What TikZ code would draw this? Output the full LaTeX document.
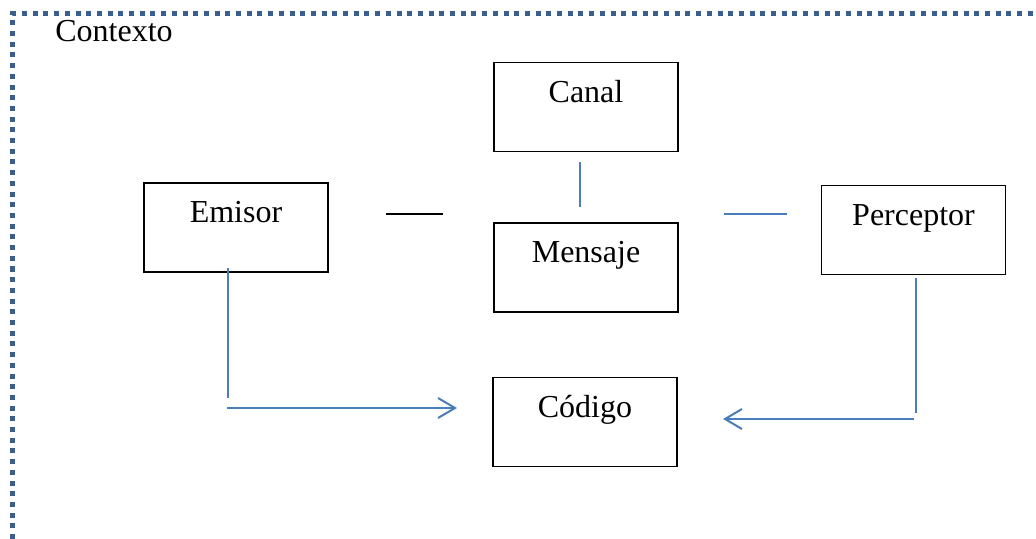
\documentclass[tikz,border=0pt]{standalone}
\usepackage{fontspec}
\setmainfont{Liberation Serif}
\usetikzlibrary{arrows.meta}
\definecolor{linkblue}{HTML}{4A7EBB}
\definecolor{framedots}{HTML}{3A5F8F}
\begin{document}
\begin{tikzpicture}[x=0.5pt,y=-0.5pt,
	box/.style={draw, line width=0.7pt, minimum width=92pt, minimum height=44.5pt, inner sep=0pt,
		text height=11pt, text depth=15.5pt, font=\fontsize{16}{19}\selectfont},
	link/.style={draw=linkblue, line width=1pt},
	tip/.style={-{Straight Barb[length=8.5pt,width=10pt]}}]
\useasboundingbox (0,0) rectangle (1036,539);
% marco del contexto
\draw[framedots, line width=2.5pt, dash pattern=on 2.5pt off 2.85pt] (12,539) -- (12,14) -- (1036,14);
\node[anchor=base west, inner sep=0pt, font=\fontsize{16}{19}\selectfont] (contexto) at (55,42) {Contexto};

\node[box] (canal) at (586,107) {Canal};
\node[box] (emisor) at (236,227.5) {Emisor};
\node[box] (mensaje) at (586,267.5) {Mensaje};
\node[box] (perceptor) at (913.5,230) {Perceptor};
\node[box] (codigo) at (585,422) {Código};

\coordinate (m1) at (386,214);  \coordinate (m2) at (443,214);
\coordinate (c1) at (580,162);  \coordinate (c2) at (580,207);
\coordinate (p1) at (724,214);  \coordinate (p2) at (787,214);
\coordinate (e1) at (228,268);  \coordinate (e2) at (228,398);
\coordinate (e3) at (227,408);  \coordinate (e4) at (457,408);
\coordinate (r1) at (916,278);  \coordinate (r2) at (916,413);
\coordinate (r3) at (914,419);  \coordinate (r4) at (723,419);

\draw[line width=1.2pt] (m1) -- (m2);
\path[link]
(c1) edge (c2)
(p1) edge (p2)
(e1) edge (e2)
(e3) edge[tip] (e4)
(r1) edge (r2)
(r3) edge[tip] (r4)
;
\end{tikzpicture}
\end{document}
